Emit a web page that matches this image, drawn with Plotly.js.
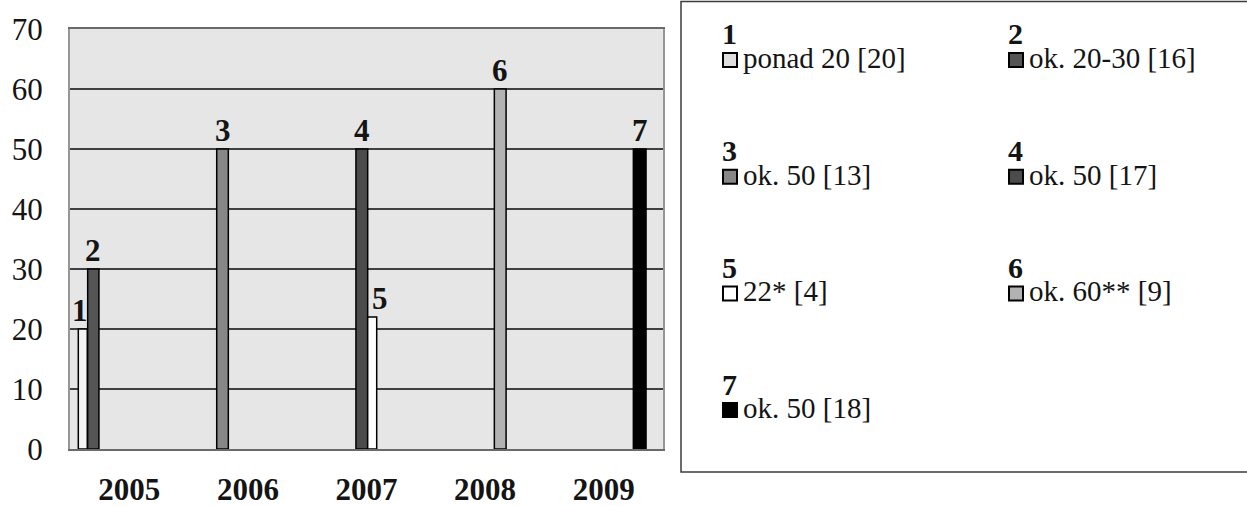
<!DOCTYPE html>
<html>
<head>
<meta charset="utf-8">
<script src="https://cdn.plot.ly/plotly-3.0.1.min.js"></script>
<style>
  html, body { margin: 0; padding: 0; background: #ffffff; }
  #chart { width: 1247px; height: 506px; }
</style>
</head>
<body>
<div id="chart"></div>
<script>
// Years on the category axis
const years = ['2005', '2006', '2007', '2008', '2009'];

// Numbered series: id, year it belongs to, value, legend description
const seriesIds = ['1', '2', '3', '4', '5', '6', '7'];
const seriesYears = ['2005', '2005', '2006', '2007', '2007', '2008', '2009'];
const seriesValues = [20, 30, 50, 50, 22, 60, 50];
const legendTexts = [
  'ponad 20 [20]', 'ok. 20-30 [16]',
  'ok. 50 [13]', 'ok. 50 [17]',
  '22* [4]', 'ok. 60** [9]',
  'ok. 50 [18]'
];

// Value axis ticks
const yTickValues = [0, 10, 20, 30, 40, 50, 60, 70];

// Styling: fill per series, bar placement inside its year slot (category units)
const barColors = ['#f4f4f4', '#555555', '#878787', '#4b4b4b', '#ffffff', '#b2b2b2', '#000000'];
const swatchColors = ['#dedede', '#555555', '#878787', '#4b4b4b', '#ffffff', '#b2b2b2', '#000000'];
const barOffsets = [-0.43, -0.351, -0.263, -0.089, 0.010, 0.078, 0.250];
const barWidths = [0.076, 0.095, 0.098, 0.099, 0.076, 0.099, 0.107];
const labelShiftPx = [-3, 0, 0, 0, 8, 0, 0];

const FONT = '"Liberation Serif", "Times New Roman", serif';
const INK = '#141414';

// Plot area geometry in pixels
const W = 1247, H = 506;
const M = { l: 70, r: 584, t: 29, b: 57 };
const plotW = W - M.l - M.r;
const plotH = H - M.t - M.b;
const px2x = px => (px - M.l) / plotW;
const py2y = py => (H - M.b - py) / plotH;

const traces = seriesIds.map((id, i) => ({
  type: 'bar',
  name: id,
  x: [seriesYears[i]],
  y: [seriesValues[i]],
  offset: barOffsets[i],
  width: barWidths[i],
  marker: { color: barColors[i], line: { color: '#000000', width: 1.5 } },
  hoverinfo: 'skip',
  showlegend: false
}));

const annotations = [];

// Series number above each bar
seriesIds.forEach((id, i) => {
  const catIndex = years.indexOf(seriesYears[i]);
  annotations.push({
    xref: 'x', yref: 'y',
    x: catIndex + barOffsets[i] + barWidths[i] / 2,
    y: seriesValues[i],
    xanchor: 'center', yanchor: 'bottom', showarrow: false,
    xshift: labelShiftPx[i], yshift: -1,
    text: '<b>' + id + '</b>',
    font: { family: FONT, size: 31, color: INK }
  });
});

// Numbered key in a framed box to the right of the plot
const shapes = [{
  type: 'rect', xref: 'paper', yref: 'paper',
  x0: px2x(681), x1: px2x(1256), y0: py2y(472), y1: py2y(1.5),
  line: { color: '#3c3c3c', width: 1.5 }, fillcolor: 'rgba(0,0,0,0)'
}];
const colX = [722, 1008];
const rowStep = 116.7;
seriesIds.forEach((id, i) => {
  const cx = colX[i % 2];
  const top = 25 + rowStep * Math.floor(i / 2);   // top of the number glyph
  annotations.push({
    xref: 'paper', yref: 'paper', x: px2x(cx - 2), y: py2y(top + 9),
    xanchor: 'left', yanchor: 'middle', showarrow: false,
    text: '<b>' + id + '</b>',
    font: { family: FONT, size: 30, color: INK }
  });
  shapes.push({
    type: 'rect', xref: 'paper', yref: 'paper',
    x0: px2x(cx + 1), x1: px2x(cx + 15), y0: py2y(top + 42), y1: py2y(top + 28),
    line: { color: '#000000', width: 2 }, fillcolor: swatchColors[i]
  });
  annotations.push({
    xref: 'paper', yref: 'paper', x: px2x(cx + 19), y: py2y(top + 33),
    xanchor: 'left', yanchor: 'middle', showarrow: false,
    text: legendTexts[i],
    font: { family: FONT, size: 29, color: INK }
  });
});

const layout = {
  width: W, height: H,
  margin: M,
  paper_bgcolor: '#ffffff',
  plot_bgcolor: '#e6e6e6',
  barmode: 'overlay',
  showlegend: false,
  font: { family: FONT, color: INK },
  xaxis: {
    type: 'category',
    categoryorder: 'array', categoryarray: years,
    tickvals: years, ticktext: years,
    range: [-0.5, years.length - 0.5],
    showgrid: false, zeroline: false,
    showline: true, linecolor: '#6a6a6a', linewidth: 2, mirror: true,
    ticks: '', ticklabelstandoff: 12,
    tickfont: { family: FONT, size: 31, color: INK, weight: 'bold' }
  },
  yaxis: {
    range: [0, 70],
    tickvals: yTickValues,
    showgrid: true, gridcolor: '#404040', gridwidth: 1.5,
    zeroline: false,
    showline: true, linecolor: '#969696', linewidth: 2, mirror: true,
    ticks: '', ticklabelstandoff: 19,
    tickfont: { family: FONT, size: 31, color: INK }
  },
  shapes: shapes,
  annotations: annotations
};

Plotly.newPlot('chart', traces, layout, { displayModeBar: false, staticPlot: true });
</script>
</body>
</html>
